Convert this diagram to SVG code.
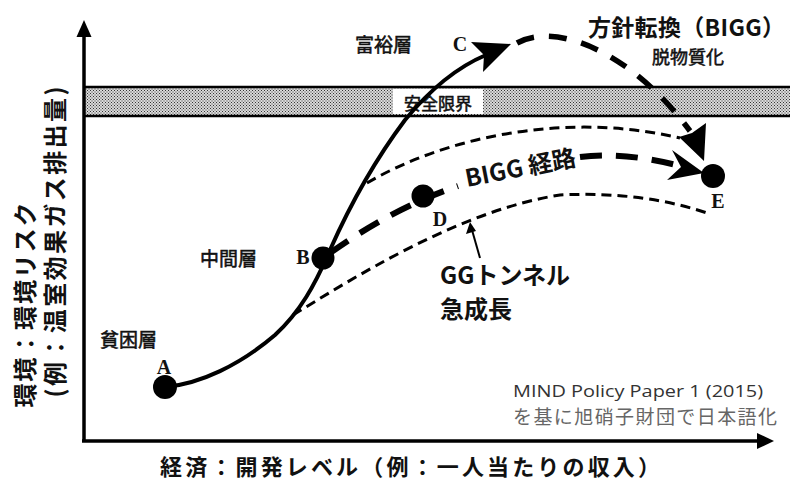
<svg xmlns="http://www.w3.org/2000/svg" width="790" height="482" viewBox="0 0 790 482">
<style>
.jp{font-family:"Noto Sans CJK JP","Noto Sans",sans-serif;fill:#111}
.b{font-weight:bold}
.m{font-weight:normal;stroke:#111;stroke-width:0.55px}
.ser{font-family:"Liberation Serif","Times New Roman",serif;font-weight:bold;fill:#111;font-size:20px}
.dot{fill:#000}
.solid{fill:none;stroke:#000;stroke-width:4;stroke-linecap:round}
.thick{fill:none;stroke:#000;stroke-width:5.5;stroke-dasharray:18 15}
.bigg{fill:none;stroke:#000;stroke-width:6;stroke-dasharray:22 14}
.thin{fill:none;stroke:#000;stroke-width:3;stroke-dasharray:10 6}
.head{fill:#000}
.axis{stroke:#000;stroke-width:3.5;fill:none}
</style>
<defs>
<pattern id="stip" width="3" height="3" patternUnits="userSpaceOnUse">
<rect width="3" height="3" fill="#dadada"/>
<rect x="0" y="0" width="1" height="1" fill="#333"/>
<rect x="1.5" y="1.5" width="1" height="1" fill="#333"/>
</pattern>
</defs>
<rect width="790" height="482" fill="#fff"/>

<g id="safety-band">
<rect x="85" y="87" width="705" height="29" fill="url(#stip)"/>
<line x1="85" y1="87" x2="790" y2="87" stroke="#000" stroke-width="2.5"/>
<line x1="85" y1="116" x2="790" y2="116" stroke="#000" stroke-width="2.5"/>
<rect x="393" y="89" width="90" height="25" fill="#fff"/>
<text class="jp m" x="438" y="102" font-size="17" text-anchor="middle" dominant-baseline="central">安全限界</text>
</g>

<g id="axes">
<line class="axis" x1="84" y1="34" x2="84" y2="442"/>
<polygon class="head" points="84,20 76.5,37 91.5,37"/>
<line class="axis" x1="82" y1="441" x2="760" y2="441"/>
<polygon class="head" points="774,441 757,433 757,449"/>
<text class="jp b" font-size="24" text-anchor="middle" dominant-baseline="central" transform="translate(23,305) rotate(-90)" textLength="205" lengthAdjust="spacing">環境：環境リスク</text>
<text class="jp b" font-size="24" text-anchor="middle" dominant-baseline="central" transform="translate(53,242) rotate(-90)" textLength="311" lengthAdjust="spacing">(例：温室効果ガス排出量)</text>
<text class="jp b" x="410" y="465" font-size="22" text-anchor="middle" dominant-baseline="central" textLength="500" lengthAdjust="spacing">経済：開発レベル（例：一人当たりの収入）</text>
</g>

<g id="connectors">
<path id="solid-path" class="solid" d="M165,387 C200,384 240,365 275,335 C300,312 315,285 330,250 C350,205 375,160 405,120 C428,92 455,68 486,55"/>
<polygon class="head" points="511,44 471,42 484,55 483,72"/>
<path id="policy-shift" class="thick" d="M517,43 C555,22 630,50 690,131"/>
<polygon class="head" points="704,161 679,137 692,133 706,123"/>
<path id="gg-upper" class="thin" d="M367,183 C440,140 560,110 680,138"/>
<path id="gg-lower" class="thin" d="M293,315 C350,280 460,210 560,195 C620,192 670,200 710,214"/>
<path id="bigg-1" class="bigg" d="M330,253 C360,232 400,206 458,186"/>
<path id="bigg-2" class="bigg" d="M580,157 C612,153 645,157 680,166"/>
<polygon class="head" points="704,173 672,150 681,167 667,180"/>
<line x1="480" y1="258" x2="472" y2="230" stroke="#000" stroke-width="2"/>
<polygon class="head" points="470,222 466,234 476,231"/>
</g>

<g id="node-A">
<circle class="dot" cx="165" cy="387" r="12"/>
<text class="ser" x="164" y="367" text-anchor="middle" dominant-baseline="central">A</text>
<text class="jp m" x="100" y="338" font-size="19" dominant-baseline="central">貧困層</text>
</g>
<g id="node-B">
<circle class="dot" cx="323" cy="258" r="11.5"/>
<text class="ser" x="303" y="257" text-anchor="middle" dominant-baseline="central">B</text>
<text class="jp m" x="200" y="257" font-size="19" dominant-baseline="central">中間層</text>
</g>
<g id="node-C">
<text class="ser" x="460" y="44" text-anchor="middle" dominant-baseline="central">C</text>
<text class="jp m" x="355" y="43" font-size="19" dominant-baseline="central">富裕層</text>
</g>
<g id="node-D">
<circle class="dot" cx="423" cy="196" r="11.5"/>
<text class="ser" x="440" y="219" text-anchor="middle" dominant-baseline="central">D</text>
</g>
<g id="node-E">
<circle class="dot" cx="713" cy="176" r="12"/>
<text class="ser" x="718" y="201" text-anchor="middle" dominant-baseline="central">E</text>
</g>

<g id="labels">
<text class="jp b" x="588" y="26" font-size="23" dominant-baseline="central" textLength="197" lengthAdjust="spacing">方針転換（BIGG）</text>
<text class="jp m" x="652" y="56" font-size="18" dominant-baseline="central">脱物質化</text>
<text class="jp b" font-size="24" text-anchor="middle" dominant-baseline="central" transform="translate(520,166) rotate(-11)">BIGG 経路</text>
<text class="jp b" x="440" y="273" font-size="24" dominant-baseline="central">GGトンネル</text>
<text class="jp b" x="440" y="307" font-size="24" dominant-baseline="central">急成長</text>
<text x="513" y="390" font-family="'Open Sans','Noto Sans',sans-serif" font-size="17" fill="#333" dominant-baseline="central" textLength="250" lengthAdjust="spacingAndGlyphs">MIND Policy Paper 1 (2015)</text>
<text class="jp" x="513" y="415" font-size="19" style="fill:#666" dominant-baseline="central" textLength="264" lengthAdjust="spacing">を基に旭硝子財団で日本語化</text>
</g>
</svg>
